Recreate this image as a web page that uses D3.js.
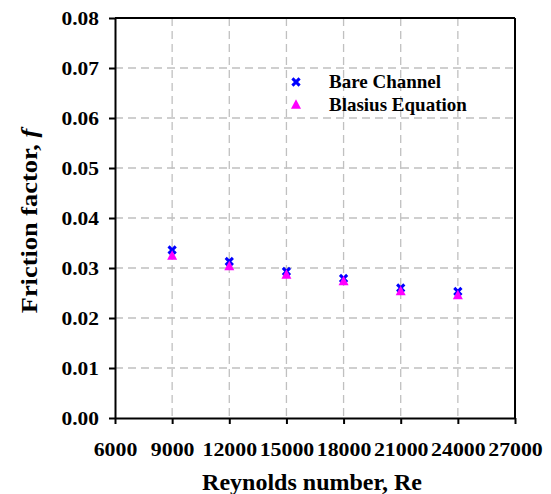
<!DOCTYPE html>
<html>
<head>
<meta charset="utf-8">
<script src="https://cdn.jsdelivr.net/npm/d3@7"></script>
<style>
  html, body { margin: 0; padding: 0; background: #fff; }
  svg { display: block; }
  svg text { font-family: "Liberation Serif", "Times New Roman", serif; font-weight: bold; fill: #000; }
</style>
</head>
<body>
<svg id="chart" width="551" height="494"></svg>
<script>
const reynolds = [9000, 12000, 15000, 18000, 21000, 24000];
const bareChannel = [0.0336, 0.0313, 0.0293, 0.0279, 0.0260, 0.0253];
const blasius = [0.0326, 0.0305, 0.0288, 0.0275, 0.0255, 0.0247];
const xTicks = [6000, 9000, 12000, 15000, 18000, 21000, 24000, 27000];
const yTicks = [0, 0.01, 0.02, 0.03, 0.04, 0.05, 0.06, 0.07, 0.08];
const seriesNames = ["Bare Channel", "Blasius Equation"];

const svg = d3.select("#chart");
const L = 115, R = 515, T = 18, B = 418;
const x = d3.scaleLinear().domain([6000, 27000]).range([L, R]);
const y = d3.scaleLinear().domain([0, 0.08]).range([B, T]);

// grid
const grid = svg.append("g").attr("stroke", "#c0c0c0").attr("stroke-width", 1.3).attr("stroke-dasharray", "8,5");
grid.selectAll("line.v").data(xTicks.slice(1, -1)).join("line")
  .attr("x1", d => x(d)).attr("x2", d => x(d)).attr("y1", T).attr("y2", B);
grid.selectAll("line.h").data(yTicks.slice(1, -1)).join("line")
  .attr("y1", d => y(d)).attr("y2", d => y(d)).attr("x1", L).attr("x2", R);

// axes
const xAxis = d3.axisBottom(x).tickValues(xTicks).tickSize(6).tickSizeOuter(0).tickFormat(d3.format("d"));
const gx = svg.append("g").attr("transform", `translate(0,${B})`).call(xAxis);
gx.select(".domain").attr("stroke", "#000").attr("stroke-width", 2);
gx.selectAll(".tick line").attr("stroke", "#000").attr("stroke-width", 2);
gx.selectAll(".tick text").style("font-size", "19.5px")
  .attr("y", 0).attr("dy", 0).attr("transform", "translate(0,37.5) scale(1.12,1)");

const yAxis = d3.axisLeft(y).tickValues(yTicks).tickSize(6).tickSizeOuter(0).tickFormat(d3.format(".2f"));
const gy = svg.append("g").attr("transform", `translate(${L},0)`).call(yAxis);
gy.select(".domain").attr("stroke", "#000").attr("stroke-width", 2);
gy.selectAll(".tick line").attr("stroke", "#000").attr("stroke-width", 2);
gy.selectAll(".tick text").style("font-size", "19.5px")
  .attr("x", 0).attr("dy", "0.35em").attr("transform", "translate(-16,0) scale(1.1,1)");

// frame top & right
svg.append("line").attr("x1", L).attr("x2", R).attr("y1", T).attr("y2", T).attr("stroke", "#000").attr("stroke-width", 2);
svg.append("line").attr("x1", R).attr("x2", R).attr("y1", T).attr("y2", B).attr("stroke", "#000").attr("stroke-width", 2);

// markers
const crossPath = s => `M${-s},${-s}L${s},${s}M${-s},${s}L${s},${-s}`;
const triPath = (w, h) => `M0,${-h / 2}L${w / 2},${h / 2}L${-w / 2},${h / 2}Z`;

const data1 = reynolds.map((r, i) => ({ r, v: bareChannel[i] }));
const data2 = reynolds.map((r, i) => ({ r, v: blasius[i] }));

svg.append("g").selectAll("path").data(data1).join("path")
  .attr("d", crossPath(3.6)).attr("transform", d => `translate(${x(d.r)},${y(d.v)})`)
  .attr("stroke", "#0000ff").attr("stroke-width", 3).attr("fill", "none");
svg.append("g").selectAll("path").data(data2).join("path")
  .attr("d", triPath(10, 9.5)).attr("transform", d => `translate(${x(d.r)},${y(d.v)})`)
  .attr("fill", "#ff00ff");

// legend
const lg = svg.append("g");
lg.append("path").attr("d", crossPath(3.6)).attr("transform", "translate(296,82)")
  .attr("stroke", "#0000ff").attr("stroke-width", 3).attr("fill", "none");
lg.append("path").attr("d", triPath(10, 9.5)).attr("transform", "translate(296,104)").attr("fill", "#ff00ff");
lg.append("text").attr("x", 329).attr("y", 87.5).style("font-size", "19px").text(seriesNames[0]);
lg.append("text").attr("x", 329).attr("y", 110.5).style("font-size", "19px").text(seriesNames[1]);

// titles
svg.append("text").attr("x", 312).attr("y", 490).attr("text-anchor", "middle")
  .style("font-size", "24px").text("Reynolds number, Re");
const yt = svg.append("text").attr("transform", "translate(37,221) rotate(-90) scale(1.1,1)")
  .attr("text-anchor", "middle").style("font-size", "24px");
yt.append("tspan").text("Friction factor, ");
yt.append("tspan").style("font-style", "italic").text("f");
</script>
</body>
</html>
